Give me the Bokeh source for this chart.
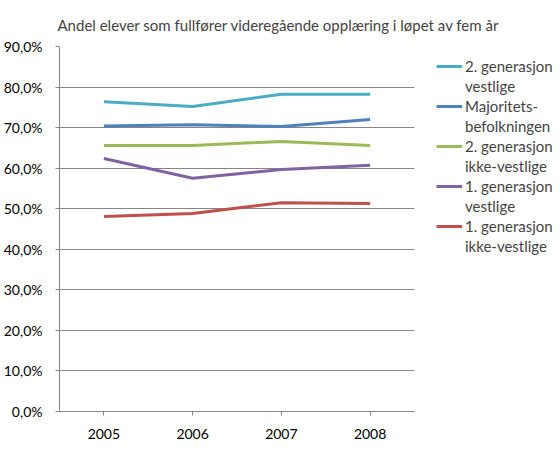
from bokeh.plotting import figure
from bokeh.models import ColumnDataSource, Legend, LegendItem, CustomJSTickFormatter, FixedTicker
from bokeh.embed import file_html
from bokeh.resources import INLINE

years = ["2005", "2006", "2007", "2008"]
gen2_vest = [76.4, 75.2, 78.2, 78.2]
majoritet = [70.4, 70.7, 70.3, 72.0]
gen2_ikke = [65.6, 65.6, 66.6, 65.6]
gen1_vest = [62.4, 57.5, 59.7, 60.7]
gen1_ikke = [48.1, 48.8, 51.5, 51.3]

series = [
    (("2. generasjon", "vestlige"), gen2_vest, "#4BACC6"),
    (("Majoritets-", "befolkningen"), majoritet, "#4F81BD"),
    (("2. generasjon", "ikke-vestlige"), gen2_ikke, "#9BBB59"),
    (("1. generasjon", "vestlige"), gen1_vest, "#8064A2"),
    (("1. generasjon", "ikke-vestlige"), gen1_ikke, "#C0504D"),
]

FONT = "Lato"

p = figure(frame_width=355, frame_height=365, x_range=years, y_range=(0, 90),
           output_backend="svg", toolbar_location=None,
           min_border_left=59, min_border_top=46, min_border_bottom=35, min_border_right=10)
p.outline_line_color = None
p.title.text = "Andel elever som fullfører videregående opplæring i løpet av fem år"
p.title.text_font = FONT
p.title.text_font_size = "15px"
p.title.text_font_style = "normal"
p.title.offset = -2
p.title.standoff = 26

items = []
for (line1, line2), vals, color in series:
    src = ColumnDataSource(dict(x=years, y=vals))
    r = p.line("x", "y", source=src, line_color=color, line_width=3)
    ghost = p.line("x", "y", source=src, line_color=color, line_width=3, line_alpha=0)
    items.append(LegendItem(label=line1, renderers=[r]))
    items.append(LegendItem(label=line2, renderers=[ghost]))

legend = Legend(items=items, location=(22, 155), label_text_font=FONT,
                label_text_font_size="15px", glyph_width=26, glyph_height=20,
                label_height=20, label_standoff=3, spacing=0, padding=0,
                border_line_color=None, background_fill_alpha=0, margin=0)
p.add_layout(legend, "right")

p.yaxis.ticker = FixedTicker(ticks=list(range(0, 91, 10)))
p.yaxis.formatter = CustomJSTickFormatter(code="return tick.toFixed(1).replace('.', ',') + '%';")
for ax in (p.xaxis, p.yaxis):
    ax.axis_line_color = "#868686"
    ax.major_tick_line_color = "#868686"
    ax.minor_tick_line_color = None
    ax.major_tick_in = 0
    ax.major_tick_out = 4
    ax.major_label_text_font = FONT
    ax.major_label_text_font_size = "14px"
    ax.major_label_text_color = "#000000"
p.yaxis.major_label_standoff = 13
p.xaxis.major_label_standoff = 13
p.xgrid.grid_line_color = None
p.ygrid.grid_line_color = "#868686"
p.ygrid.grid_line_width = 1

open("out.html", "w").write(file_html(p, INLINE))
